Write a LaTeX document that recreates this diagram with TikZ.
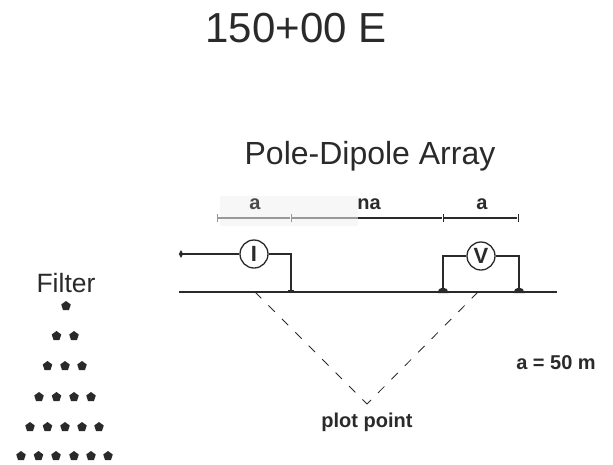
\documentclass[tikz,border=0pt]{standalone}
\usepackage{fontspec}
\setmainfont{Liberation Sans}
\usetikzlibrary{shapes.geometric,calc}
\definecolor{ink}{HTML}{2A2A2A}
\tikzset{
  x=1pt,y=-1pt,
  txt/.style={inner sep=0pt,text=ink,anchor=center},
  wire/.style={draw=ink,line width=1.1pt},
  meter/.style={circle,draw=ink,line width=1.3pt,fill=white,minimum size=28pt,inner sep=0pt,font=\bfseries\fontsize{22}{22}\selectfont,text=ink},
  fstar/.style={regular polygon,regular polygon sides=5,fill=ink,draw=none,minimum size=10pt,inner sep=0pt},
  tickb/.style={inner sep=0pt,minimum width=1pt,minimum height=8pt,fill=ink},
  tickg/.style={inner sep=0pt,minimum width=1pt,minimum height=8pt,fill=gray!80},
  dashline/.style={draw=ink,line width=0.85pt,dash pattern=on 9pt off 10pt},
  boldtxt/.style={txt,font=\bfseries\fontsize{20}{20}\selectfont}
}
\begin{document}
\begin{tikzpicture}
\useasboundingbox (0,0) rectangle (613,464);
\fill[gray!6] (220,196) rectangle (358,226);
% texts
\node[txt,font=\fontsize{42}{42}\selectfont] (title) at (296,28.5) {150+00 E};
\node[txt,font=\fontsize{32}{32}\selectfont] (array) at (370,156) {Pole-Dipole Array};
\node[txt,font=\fontsize{26.5}{26.5}\selectfont] (filter) at (66,283) {Filter};
\node[boldtxt,text=ink!85] (la) at (255,204) {a};
\node[boldtxt] (lna) at (369,204) {na};
\node[boldtxt] (la2) at (482,204) {a};
\node[boldtxt] (plot) at (367,422) {plot point};
\node[boldtxt] (eq) at (556,363) {a = 50 m};
% dimension line
\node[tickg] (t1) at (217,218) {};
\node[tickg] (t2) at (291,218) {};
\node[tickb] (t3) at (443,218) {};
\node[tickb] (t4) at (518,218) {};
\draw[draw=gray!80,line width=1.1pt] (t1) -- (t2);
\draw[draw=gray!80,line width=1.1pt] (t2) -- (358,218) coordinate (m);
\draw[wire] (m) -- (t3);
\draw[wire] (t3) -- (t4);
% ground
\coordinate (g1) at (179,292);
\coordinate (g2) at (557,292);
\draw[wire] (g1) -- (g2);
% current circuit
\node[meter] (I) at (254,254) {I};
\node[diamond,fill=ink,inner sep=0pt,minimum width=4.5pt,minimum height=8pt,aspect=0.6] (far) at (181,254) {};
\coordinate (cdown) at (291,292);
\draw[wire] (far) -- (I);
\draw[wire] (I) -| (cdown);
\fill[ink] (288,289.5) rectangle (294,293);
% voltage circuit
\node[meter] (V) at (481,256) {V};
\coordinate (v1) at (443,292);
\coordinate (v2) at (519,292);
\draw[wire] (V) -| (v1);
\draw[wire] (V) -| (v2);
\fill[ink] (437.5,293) arc[start angle=180,end angle=360,radius=5.5] -- cycle;
\fill[ink] (513.5,293) arc[start angle=180,end angle=360,radius=5.5] -- cycle;
% dashed
\coordinate (d1) at (255,292);
\coordinate (d2) at (478,292);
\coordinate (p) at (367,404);
\draw[dashline] (d1) -- (p);
\draw[dashline] (d2) -- (p);
% filter points
\foreach \x/\y [count=\i] in {66/306,56.5/336,74/336,47.5/366,65/366,82/366,39/397,56.5/397,74/397,91/397,30/427,47.5/427,65/427,82/427,99/427,21/456,38.5/456,56/456,74/456,91/456,108/456}
  \node[fstar] (f\i) at (\x,\y) {};
\end{tikzpicture}
\end{document}
